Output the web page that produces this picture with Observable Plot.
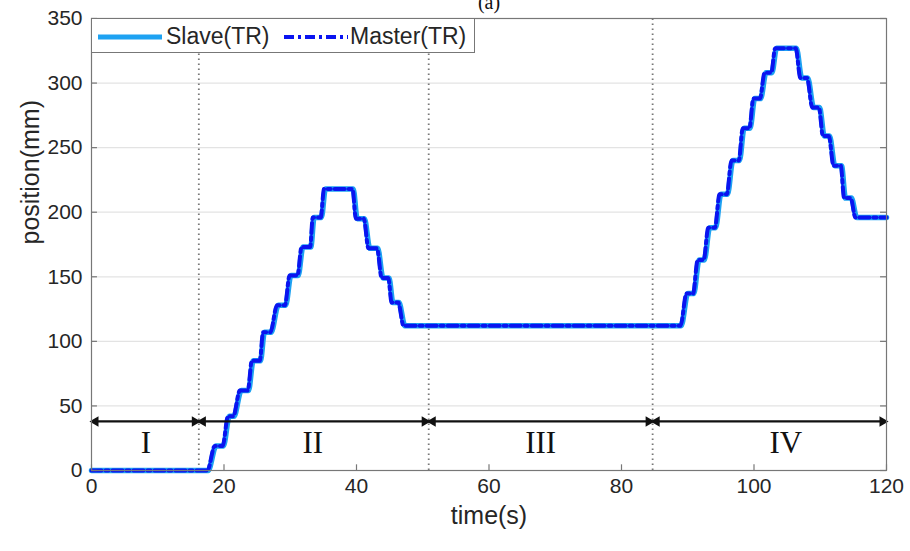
<!DOCTYPE html>
<html><head><meta charset="utf-8">
<script src="https://cdn.jsdelivr.net/npm/d3@7"></script>
<script src="https://cdn.jsdelivr.net/npm/@observablehq/plot@0.6"></script>
<style>
body{margin:0;background:#fff;}
#wrap{position:relative;width:910px;height:551px;}
#legend{position:absolute;left:91px;top:18px;width:384px;height:35px;border:1px solid #777;background:#fff;box-sizing:border-box;font-family:"Liberation Sans",Arial,sans-serif;font-size:23px;color:#262626;}
#legend svg{position:absolute;left:0;top:0;}
#legend span{position:absolute;top:4px;line-height:26px;}
</style></head><body>
<div id="wrap"></div>
<script>
// ---- data ----
const masterTime = [0, 17.5, 18.6, 19.8, 20.6, 21.4, 22.4, 23.6, 24.2, 25.4, 25.9, 27.0, 28.0, 29.2, 29.9, 31.1, 31.7, 33.0, 33.4, 34.6, 35.1, 39.4,
  39.9, 41.1, 41.8, 43.1, 43.8, 44.8, 45.3, 46.3, 47.1, 88.9,
  89.8, 90.8, 91.5, 92.4, 93.1, 94.1, 94.8, 95.9, 96.6, 97.7, 98.3, 99.3, 99.9, 100.9, 101.6, 102.6, 103.2, 106.3,
  107.0, 108.0, 108.8, 109.8, 110.4, 111.3, 112.0, 113.1, 113.6, 114.6, 115.3, 120];
const masterPos = [0, 0, 19, 19, 42, 42, 62, 62, 85, 85, 107, 107, 128, 128, 151, 151, 173, 173, 196, 196, 218, 218,
  195, 195, 172, 172, 149, 149, 130, 130, 112, 112,
  137, 137, 163, 163, 188, 188, 214, 214, 240, 240, 265, 265, 288, 288, 308, 308, 327, 327,
  304, 304, 281, 281, 259, 259, 236, 236, 211, 211, 196, 196];
const slaveTime = [0, 17.6, 18.8, 19.9, 20.8, 21.5, 22.6, 23.7, 24.4, 25.5, 26.1, 27.1, 28.2, 29.3, 30.1, 31.2, 31.9, 33.1, 33.6, 34.7, 35.3, 39.5,
  40.1, 41.2, 42.0, 43.2, 44.0, 44.9, 45.5, 46.4, 47.3, 89.0,
  90.0, 90.9, 91.7, 92.5, 93.3, 94.2, 95.0, 96.0, 96.8, 97.8, 98.5, 99.4, 100.1, 101.0, 101.8, 102.7, 103.4, 106.4,
  107.2, 108.1, 109.0, 109.9, 110.6, 111.4, 112.2, 113.2, 113.8, 114.7, 115.5, 120];
const slavePos = [0, 0, 19, 19, 42, 42, 62, 62, 85, 85, 107, 107, 128, 128, 151, 151, 173, 173, 196, 196, 218, 218,
  195, 195, 172, 172, 149, 149, 130, 130, 112, 112,
  137, 137, 163, 163, 188, 188, 214, 214, 240, 240, 265, 265, 288, 288, 308, 308, 327, 327,
  304, 304, 281, 281, 259, 259, 236, 236, 211, 211, 196, 196];
const phaseStart = [0, 16.2, 50.9, 84.7];
const phaseEnd = [16.2, 50.9, 84.7, 120];
const phaseDividers = [16.2, 50.9, 84.7];
const phaseNames = ["I", "II", "III", "IV"];
const phaseLabelX = [8.2, 33.4, 67.8, 104.8];
const arrowLevel = [38, 38, 38, 38];
const phaseLabelLevel = [21, 21, 21, 21];
const xTicks = [0, 20, 40, 60, 80, 100, 120];
const yTicks = [0, 50, 100, 150, 200, 250, 300, 350];
const yGrid = [50, 100, 150, 200, 250, 300];
const seriesNames = ["Slave(TR)", "Master(TR)"];
const panelTitle = "(a)";
const panelTitleX = [60];

const slaveColor = "#1ea2f2";
const masterColor = "#0a14f0";
const masterDash = "10,4,3,4";
const sans = "'Liberation Sans', Arial, sans-serif";
const serif = "'Liberation Serif', 'Times New Roman', serif";

const chart = Plot.plot({
  width: 910, height: 551,
  marginLeft: 91, marginRight: 24, marginTop: 18, marginBottom: 81,
  style: {fontFamily: sans, fontSize: "21px", color: "#262626", background: "#fff"},
  x: {domain: [0, 120], ticks: xTicks, label: null},
  y: {domain: [0, 350], ticks: yTicks, label: null},
  marks: [
    Plot.ruleY(yGrid, {stroke: "#e3e3e3", strokeWidth: 1.2}),
    Plot.ruleX(phaseDividers, {y1: 0, y2: 350, stroke: "#777", strokeWidth: 1.8, strokeDasharray: "1.6,3.4"}),
    Plot.line(slaveTime, {x: slaveTime, y: slavePos, stroke: slaveColor, strokeWidth: 5.5, curve: "monotone-x"}),
    Plot.line(masterTime, {x: masterTime, y: masterPos, stroke: masterColor, strokeWidth: 4, strokeDasharray: masterDash, curve: "monotone-x"}),
    // phase arrows
    Plot.link(phaseStart, {x1: phaseStart, x2: phaseEnd, y1: arrowLevel, y2: arrowLevel, stroke: "#111", strokeWidth: 2.2}),
    Plot.dot(phaseEnd, {x: phaseEnd, y: arrowLevel, symbol: "triangle2", r: 5, fill: "#111", rotate: 90, dx: -4}),
    Plot.dot(phaseStart, {x: phaseStart, y: arrowLevel, symbol: "triangle2", r: 5, fill: "#111", rotate: -90, dx: 4}),
    Plot.text(phaseNames, {x: phaseLabelX, y: phaseLabelLevel, text: phaseNames, fontFamily: serif, fontSize: 31, fill: "#111"}),
    // inward ticks
    Plot.ruleX(xTicks, {x: xTicks, y1: 0, y2: 4.4, stroke: "#777", strokeWidth: 1.2}),
    Plot.ruleY(yTicks, {y: yTicks, x1: 0, x2: 0.9, stroke: "#777", strokeWidth: 1.2}),
    Plot.ruleY(yTicks, {y: yTicks, x1: 119.1, x2: 120, stroke: "#777", strokeWidth: 1.2}),
    Plot.axisX({ticks: xTicks, tickSize: 0, tickPadding: 8, label: null, fontSize: 21, tickFormat: d => String(d)}),
    Plot.axisY({ticks: yTicks, tickSize: 0, tickPadding: 9, label: null, fontSize: 21, tickFormat: d => String(d)}),
    Plot.frame({stroke: "#777", strokeWidth: 1.2}),
    // axis titles
    Plot.text(["time(s)"], {frameAnchor: "bottom", dy: 53, text: d => d, fontSize: 25, fill: "#262626"}),
    Plot.text(["position(mm)"], {frameAnchor: "left", dx: -61, rotate: -90, text: d => d, fontSize: 25, fill: "#262626"}),
    Plot.text([panelTitle], {x: panelTitleX, frameAnchor: "top", dy: -10, lineAnchor: "bottom", text: d => d, fontFamily: serif, fontSize: 20, fill: "#111"})
  ]
});
const wrap = document.getElementById("wrap");
wrap.appendChild(chart);

// legend overlay (inside the axes, top-left)
const legend = document.createElement("div");
legend.id = "legend";
legend.innerHTML = `<svg width="384" height="35">
  <line x1="6" x2="70" y1="18" y2="18" stroke="${slaveColor}" stroke-width="5"/>
  <line x1="192" x2="256" y1="18" y2="18" stroke="${masterColor}" stroke-width="4" stroke-dasharray="${masterDash}"/>
</svg>
<span style="left:74px">${seriesNames[0]}</span>
<span style="left:258px">${seriesNames[1]}</span>`;
wrap.appendChild(legend);
</script>
</body></html>
